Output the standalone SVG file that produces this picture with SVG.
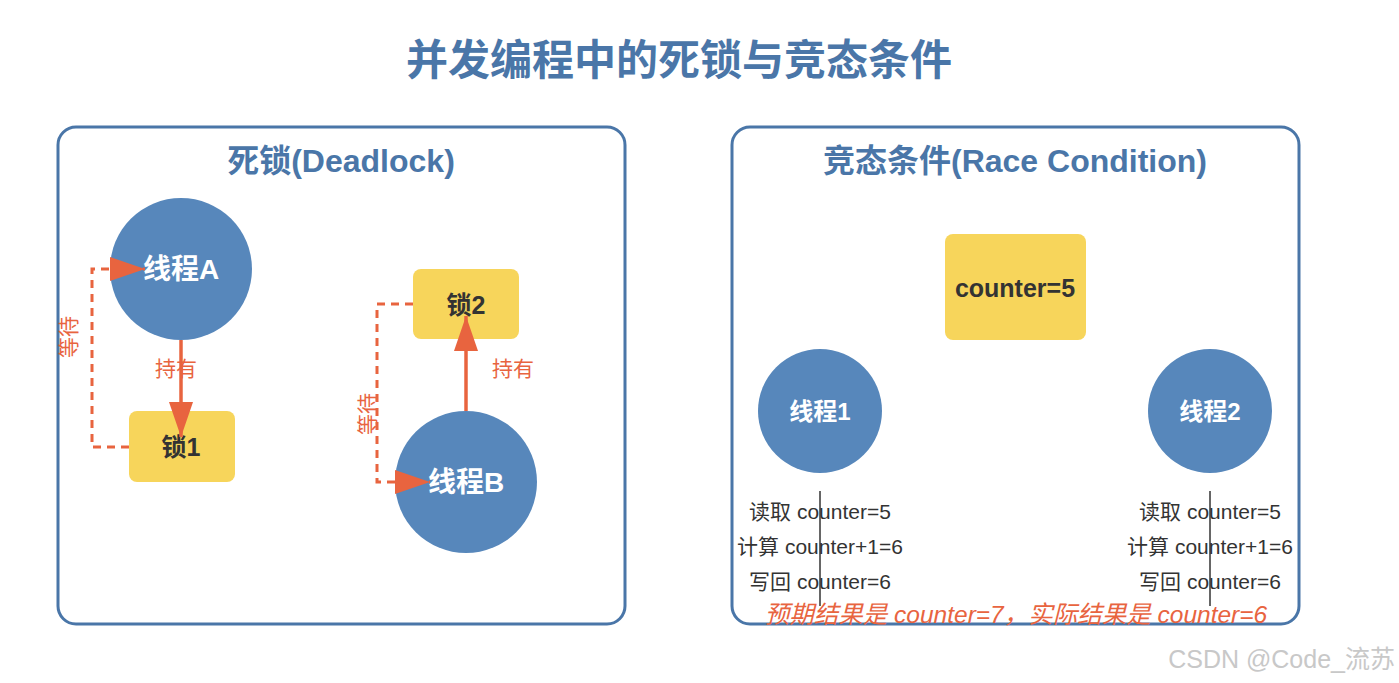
<svg xmlns="http://www.w3.org/2000/svg" width="1399" height="683" viewBox="0 0 1399 683">
<defs>
<style>
text{font-family:"Liberation Sans","Noto Sans CJK SC",sans-serif}
.title{font-size:42px;font-weight:bold;fill:#4a76a8;text-anchor:middle}
.ptitle{font-size:32px;font-weight:bold;fill:#4a76a8;text-anchor:middle}
.panel{fill:#fff;stroke:#4a76a8;stroke-width:3}
.thread{fill:#5787bb}
.lock{fill:#f7d55b}
.tlabel{font-size:28px;font-weight:bold;fill:#fff;text-anchor:middle;dominant-baseline:central}
.tlabel2{font-size:24px;font-weight:bold;fill:#fff;text-anchor:middle;dominant-baseline:central}
.llabel{font-size:25px;font-weight:bold;fill:#333;text-anchor:middle;dominant-baseline:central}
.hold{stroke:#e8643f;stroke-width:3.5;fill:none}
.wait{stroke:#e8643f;stroke-width:3;fill:none;stroke-dasharray:8,6}
.elabel{font-size:21px;fill:#e8643f;text-anchor:middle;dominant-baseline:central}
.step{font-size:21px;fill:#333;text-anchor:middle;dominant-baseline:central}
.vline{stroke:#333;stroke-width:1.5}
.note{font-size:24.5px;font-style:italic;fill:#e8643f;text-anchor:middle;dominant-baseline:central}
.wm{font-size:25px;fill:#c8c8c8;text-anchor:end}
</style>
<marker id="ah" markerWidth="35" markerHeight="24" refX="35" refY="12" orient="auto" markerUnits="userSpaceOnUse">
<path d="M0,0 L35,12 L0,24 Z" fill="#e8643f"/>
</marker>
</defs>
<rect width="1399" height="683" fill="#fff"/>
<text class="title" x="679" y="75">并发编程中的死锁与竞态条件</text>

<g id="panel-deadlock">
<rect class="panel" x="58" y="127" width="567" height="497" rx="18"/>
<text class="ptitle" x="341" y="172">死锁(Deadlock)</text>
</g>
<g id="panel-race">
<rect class="panel" x="732" y="127" width="567" height="497" rx="18"/>
<text class="ptitle" x="1015" y="172">竞态条件(Race Condition)</text>
</g>

<g id="threadA"><circle class="thread" cx="181" cy="269" r="71"/><text class="tlabel" x="181" y="269">线程A</text></g>
<g id="lock1"><rect class="lock" x="129" y="411" width="106" height="71" rx="8"/><text class="llabel" x="181" y="447">锁1</text></g>
<g id="lock2"><rect class="lock" x="413" y="269" width="106" height="70" rx="8"/><text class="llabel" x="466" y="305">锁2</text></g>
<g id="threadB"><circle class="thread" cx="466" cy="482" r="71"/><text class="tlabel" x="466" y="482">线程B</text></g>

<g id="counter"><rect class="lock" x="945" y="234" width="141" height="106" rx="8"/><text class="llabel" x="1015" y="288">counter=5</text></g>
<g id="thread1"><circle class="thread" cx="820" cy="411" r="62"/><text class="tlabel2" x="820" y="411">线程1</text></g>
<g id="thread2"><circle class="thread" cx="1210" cy="411" r="62"/><text class="tlabel2" x="1210" y="411">线程2</text></g>

<g id="steps1">
<text class="step" x="820" y="511">读取 counter=5</text>
<text class="step" x="820" y="546">计算 counter+1=6</text>
<text class="step" x="820" y="581">写回 counter=6</text>
</g>
<g id="steps2">
<text class="step" x="1210" y="511">读取 counter=5</text>
<text class="step" x="1210" y="546">计算 counter+1=6</text>
<text class="step" x="1210" y="581">写回 counter=6</text>
</g>

<g id="connectors">
<line class="hold" x1="181" y1="340" x2="181" y2="437" marker-end="url(#ah)"/>
<path class="wait" d="M129,447 H92 V269 H145" marker-end="url(#ah)"/>
<line class="hold" x1="466" y1="411" x2="466" y2="316" marker-end="url(#ah)"/>
<path class="wait" d="M413,304 H377 V482 H430" marker-end="url(#ah)"/>
<line class="vline" x1="820" y1="491" x2="820" y2="606"/>
<line class="vline" x1="1210" y1="491" x2="1210" y2="606"/>
</g>

<g id="edge-labels">
<text class="elabel" x="176" y="368">持有</text>
<text class="elabel" x="513" y="368">持有</text>
<text class="elabel" transform="translate(68,337) rotate(-90)">等待</text>
<text class="elabel" transform="translate(367,414) rotate(-90)">等待</text>
</g>

<text class="note" x="1016" y="614">预期结果是 counter=7，实际结果是 counter=6</text>
<text class="wm" x="1395" y="668">CSDN @Code_流苏</text>
</svg>
